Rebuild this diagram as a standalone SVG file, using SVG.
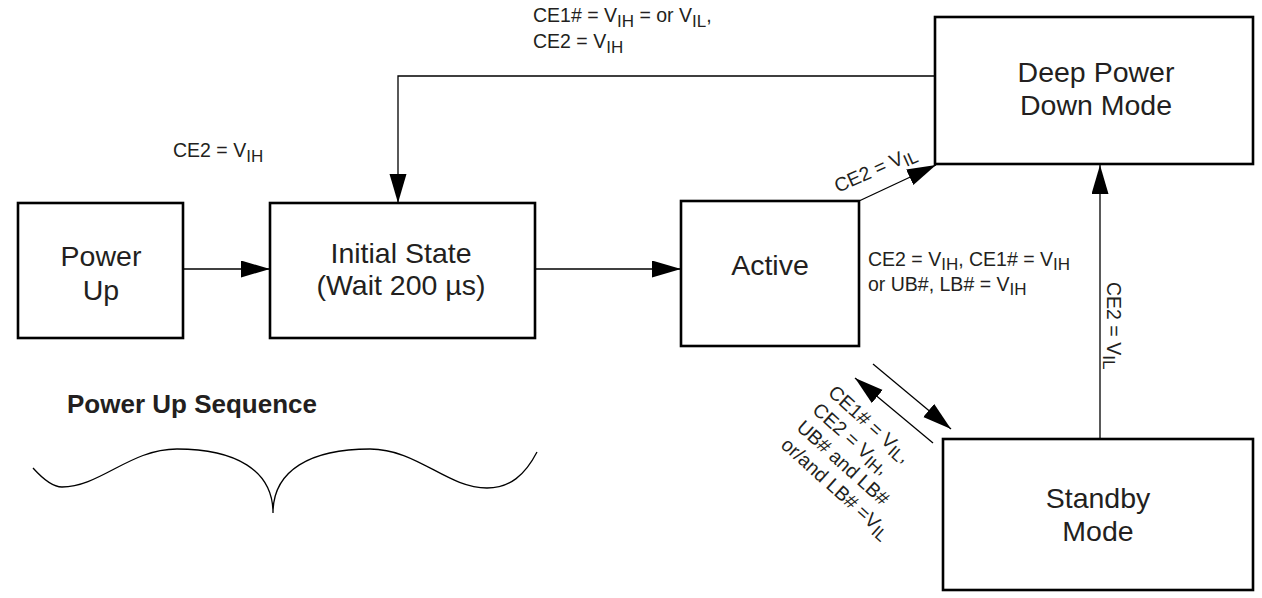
<svg xmlns="http://www.w3.org/2000/svg" width="1262" height="598" viewBox="0 0 1262 598">
<defs>
<marker id="ah" markerUnits="userSpaceOnUse" markerWidth="30" markerHeight="18" refX="29" refY="8.5" orient="auto">
<path d="M0,0 L29,8.5 L0,17 Z" fill="#000"/>
</marker>
<style>
.box{fill:#fff;stroke:#000;stroke-width:2.6}
.ln{fill:none;stroke:#000;stroke-width:1.3}
.bt{font-family:"Liberation Sans",Arial,sans-serif;font-size:28.5px;fill:#231f20;text-anchor:middle}
.lb{font-family:"Liberation Sans",Arial,sans-serif;font-size:19.5px;fill:#231f20}
.sub{font-size:17px}
.ttl{font-family:"Liberation Sans",Arial,sans-serif;font-size:26px;font-weight:bold;fill:#231f20}
</style>
</defs>
<rect width="1262" height="598" fill="#fff"/>

<g id="connectors">
<line class="ln" x1="183" y1="269" x2="270" y2="269" marker-end="url(#ah)"/>
<line class="ln" x1="535" y1="269" x2="681" y2="269" marker-end="url(#ah)"/>
<polyline class="ln" points="935,76 398,76 398,203" marker-end="url(#ah)"/>
<line class="ln" x1="859" y1="201" x2="936" y2="165" marker-end="url(#ah)"/>
<line class="ln" x1="1100" y1="439" x2="1100" y2="165" marker-end="url(#ah)"/>
<line class="ln" x1="933" y1="443" x2="855" y2="378" marker-end="url(#ah)"/>
<line class="ln" x1="873" y1="364" x2="951" y2="429" marker-end="url(#ah)"/>
</g>

<g id="node-power-up">
<rect class="box" x="18" y="203" width="165" height="135"/>
<text class="bt" x="101" y="266">Power</text>
<text class="bt" x="101" y="300">Up</text>
</g>
<g id="node-initial-state">
<rect class="box" x="270" y="203" width="265" height="135"/>
<text class="bt" x="401" y="263">Initial State</text>
<text class="bt" x="401" y="295">(Wait 200 µs)</text>
</g>
<g id="node-active">
<rect class="box" x="681" y="201" width="178" height="145"/>
<text class="bt" x="770" y="275">Active</text>
</g>
<g id="node-deep-power-down">
<rect class="box" x="935" y="17" width="318" height="147"/>
<text class="bt" x="1096" y="82">Deep Power</text>
<text class="bt" x="1096" y="115">Down Mode</text>
</g>
<g id="node-standby">
<rect class="box" x="943" y="439" width="310" height="151"/>
<text class="bt" x="1098" y="508">Standby</text>
<text class="bt" x="1098" y="541">Mode</text>
</g>

<g id="labels">
<text class="lb" x="533" y="22">CE1# = V<tspan class="sub" dy="5">IH</tspan><tspan dy="-5"> = or V</tspan><tspan class="sub" dy="5">IL</tspan><tspan dy="-5">,</tspan></text>
<text class="lb" x="533" y="48">CE2 = V<tspan class="sub" dy="5">IH</tspan></text>
<text class="lb" x="173" y="157">CE2 = V<tspan class="sub" dy="5">IH</tspan></text>
<text class="lb" transform="translate(838,193) rotate(-24)">CE2 = V<tspan class="sub" dy="4">IL</tspan></text>
<text class="lb" x="868" y="266">CE2 = V<tspan class="sub" dy="4">IH</tspan><tspan dy="-4">, CE1# = V</tspan><tspan class="sub" dy="4">IH</tspan></text>
<text class="lb" x="868" y="291">or UB#, LB# = V<tspan class="sub" dy="4">IH</tspan></text>
<text class="lb" transform="translate(1107,282) rotate(90)">CE2 = V<tspan class="sub" dy="4">IL</tspan></text>
<g transform="translate(827,394) rotate(42)">
<text class="lb" x="0" y="0">CE1# = V<tspan class="sub" dy="4">IL</tspan><tspan dy="-4">,</tspan></text>
<text class="lb" x="0" y="23.5">CE2 = V<tspan class="sub" dy="4">IH</tspan><tspan dy="-4">,</tspan></text>
<text class="lb" x="0" y="47">UB# and LB#</text>
<text class="lb" x="0" y="70.5">or/and LB# =V<tspan class="sub" dy="4">IL</tspan></text>
</g>
</g>

<g id="power-up-sequence">
<text class="ttl" x="67" y="413">Power Up Sequence</text>
<path class="ln" d="M33,468 C42,478 52,487 62,487 C100,487 130,449 177,449 C235,449 273,470 273,513 C273,470 311,449 370,449 C417,449 447,488 487,488 C510,488 525,475 537,452"/>
</g>
</svg>
